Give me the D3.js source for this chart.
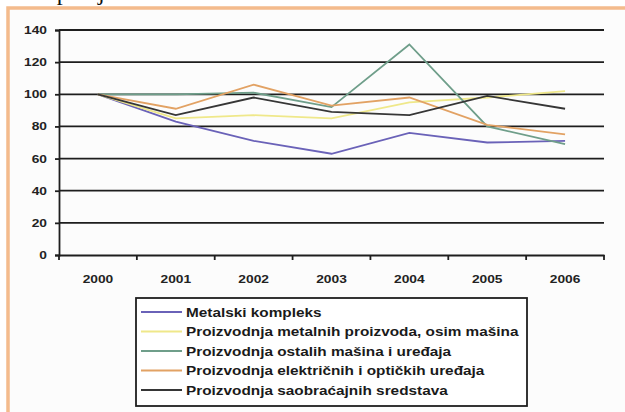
<!DOCTYPE html>
<html>
<head>
<meta charset="utf-8">
<script src="https://cdn.jsdelivr.net/npm/d3@7"></script>
<style>
  body { margin: 0; background: #fff; }
  svg { display: block; }
</style>
</head>
<body>
<svg width="625" height="412"></svg>
<script>
var years = ['2000', '2001', '2002', '2003', '2004', '2005', '2006']
var yTicks = [0, 20, 40, 60, 80, 100, 120, 140]
var seriesNames = [
    'Metalski kompleks',
    'Proizvodnja metalnih proizvoda, osim mašina',
    'Proizvodnja ostalih mašina i uređaja',
    'Proizvodnja električnih i optičkih uređaja',
    'Proizvodnja saobraćajnih sredstava'
]
var metalski = [100, 83, 71, 63, 76, 70, 71]
var metalniProizvodi = [100, 85, 87, 85, 95, 98, 102]
var ostaleMasine = [100, 100, 101, 92, 131, 80, 69]
var elektricni = [100, 91, 106, 93, 98, 81, 75]
var saobracajna = [100, 87, 98, 89, 87, 99, 91]
var colors = ['#6a62b8', '#efe88a', '#6f9e8a', '#e2a264', '#363636']

var allSeries = [metalski, metalniProizvodi, ostaleMasine, elektricni, saobracajna]

var svg = d3.select('svg');

// widen text a bit, the scanned chart uses a stretched font
function stretch(sel, k) {
    sel.each(function () {
        var w = this.getComputedTextLength();
        d3.select(this)
            .attr('textLength', w * k)
            .attr('lengthAdjust', 'spacingAndGlyphs');
    });
}

// page text cut off at the top
svg.append('text')
    .attr('x', 14)
    .attr('y', -0.5)
    .attr('font-family', 'Liberation Serif, serif')
    .attr('font-size', 24)
    .attr('fill', '#111')
    .text('kompanija.');

// chart frame
svg.append('rect')
    .attr('x', 8).attr('y', 8)
    .attr('width', 640).attr('height', 420)
    .attr('fill', '#fcfcfc')
    .attr('stroke', '#f4bb8c')
    .attr('stroke-width', 3.5);

var x = d3.scaleBand().domain(years).range([59, 604]);
var y = d3.scaleLinear().domain([0, 140]).range([255, 30]);

var g = svg.append('g');

// gridlines
g.selectAll('line.grid')
    .data(yTicks.slice(1))
    .enter()
    .append('line')
    .attr('class', 'grid')
    .attr('x1', 59).attr('x2', 604)
    .attr('y1', function (d) { return y(d); })
    .attr('y2', function (d) { return y(d); })
    .attr('stroke', '#1e1e1e')
    .attr('stroke-width', 1.8);

var yAxis = g.append('g')
    .attr('transform', 'translate(59,0)')
    .call(d3.axisLeft(y).tickValues(yTicks).tickSize(4).tickPadding(8));

var xAxis = g.append('g')
    .attr('transform', 'translate(0,255)')
    .call(d3.axisBottom(x).tickSize(0).tickPadding(20));

// tick marks sit on the band edges
var edges = years.map(function (d) { return x(d); }).concat([x.range()[1]]);
g.selectAll('line.xtick')
    .data(edges)
    .enter()
    .append('line')
    .attr('class', 'xtick')
    .attr('x1', function (d) { return d; })
    .attr('x2', function (d) { return d; })
    .attr('y1', 255).attr('y2', 260)
    .attr('stroke', '#1e1e1e')
    .attr('stroke-width', 1.8);

[yAxis, xAxis].forEach(function (a) {
    a.select('.domain').attr('stroke', '#1e1e1e').attr('stroke-width', 1.8);
    a.selectAll('.tick line').attr('stroke', '#1e1e1e').attr('stroke-width', 1.8);
    a.selectAll('.tick text')
        .attr('font-family', 'Liberation Sans, Arial, sans-serif')
        .attr('font-weight', 'bold')
        .attr('font-size', 11)
        .attr('fill', '#222')
        .call(stretch, 1.25);
});

var line = d3.line()
    .x(function (d, i) { return x(years[i]) + x.bandwidth() / 2; })
    .y(function (d) { return y(d); });

g.selectAll('path.series')
    .data(allSeries)
    .enter()
    .append('path')
    .attr('class', 'series')
    .attr('d', line)
    .attr('fill', 'none')
    .attr('stroke', function (d, i) { return colors[i]; })
    .attr('stroke-width', 1.8);

// legend
var legend = svg.append('g');
legend.append('rect')
    .attr('x', 136).attr('y', 298)
    .attr('width', 391).attr('height', 108)
    .attr('fill', '#fff')
    .attr('stroke', '#1e1e1e')
    .attr('stroke-width', 1.8);

var rows = legend.selectAll('g.row')
    .data(seriesNames)
    .enter()
    .append('g')
    .attr('class', 'row')
    .attr('transform', function (d, i) { return 'translate(0,' + (312 + i * 19.5) + ')'; });

rows.append('line')
    .attr('x1', 141).attr('x2', 182)
    .attr('stroke', function (d, i) { return colors[i]; })
    .attr('stroke-width', 2);

rows.append('text')
    .attr('x', 186)
    .attr('dy', '0.35em')
    .attr('font-family', 'Liberation Sans, Arial, sans-serif')
    .attr('font-weight', 'bold')
    .attr('font-size', 13)
    .attr('fill', '#1a1a1a')
    .text(function (d) { return d; })
    .call(stretch, 1.18);
</script>
</body>
</html>
